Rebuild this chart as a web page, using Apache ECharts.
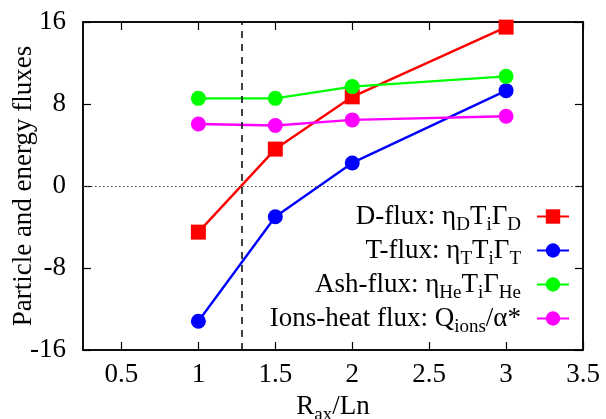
<!DOCTYPE html>
<html>
<head>
<meta charset="utf-8">
<script src="https://cdn.jsdelivr.net/npm/echarts@6/dist/echarts.min.js"></script>
<style>
  html, body { margin: 0; padding: 0; background: #fff; }
  #chart { width: 606px; height: 419px; }
</style>
</head>
<body>
<div id="chart"></div>
<script>
// R_ax/Ln values where the fluxes were computed
const xValues = [1, 1.5, 2, 3];
const dFlux = [-4.5, 3.6, 8.7, 15.5];
const tFlux = [-13.2, -3.0, 2.25, 9.3];
const ashFlux = [8.55, 8.55, 9.7, 10.7];
const ionsHeat = [6.05, 5.9, 6.45, 6.8];

const xTicks = [0.5, 1, 1.5, 2, 2.5, 3, 3.5];
const thresholdX = 1.28; // dashed vertical marker

const seriesNames = ['D-flux', 'T-flux', 'Ash-flux', 'Ions-heat flux'];
const legendLabels = {
  'D-flux': 'D-flux: η{s|D}T{s|i}Γ{s|D}',
  'T-flux': 'T-flux: η{s|T}T{s|i}Γ{s|T}',
  'Ash-flux': 'Ash-flux: η{s|He}T{s|i}Γ{s|He}',
  'Ions-heat flux': 'Ions-heat flux: Q{s|ions}/α*'
};

const FONT = 'Liberation Serif';
const FS = 27;

function pairs(ys) {
  return xValues.map((x, i) => [x, ys[i]]);
}

const chart = echarts.init(document.getElementById('chart'), null, { renderer: 'canvas' });

function mkSeries(name, ys, color, symbol) {
  return {
    name: name,
    type: 'line',
    data: pairs(ys),
    symbol: symbol,
    symbolSize: 15,
    showSymbol: true,
    lineStyle: { color: color, width: 2.4 },
    itemStyle: { color: color },
    z: 3
  };
}

const series = [
  mkSeries(seriesNames[0], dFlux, '#ff0000', 'rect'),
  mkSeries(seriesNames[1], tFlux, '#0000ff', 'circle'),
  mkSeries(seriesNames[2], ashFlux, '#00ff00', 'circle'),
  mkSeries(seriesNames[3], ionsHeat, '#ff00ff', 'circle')
];

// reference lines: y = 0 dotted and dashed vertical threshold
series[0].markLine = {
  silent: true,
  symbol: 'none',
  animation: false,
  label: { show: false },
  data: [
    { yAxis: 0, lineStyle: { color: '#444', width: 1, type: [1.5, 2.5] } },
    { xAxis: thresholdX, lineStyle: { color: '#000', width: 1.5, type: [7, 6] } }
  ]
};

const subStyle = { fontFamily: FONT, fontSize: 19, color: '#000', padding: [18, 0, 0, 0] };
const labelStyle = { fontFamily: FONT, fontSize: FS, color: '#000' };

const option = {
  animation: false,
  backgroundColor: '#fff',
  textStyle: { fontFamily: FONT, fontSize: FS },
  grid: {
    left: 83, right: 23, top: 22, bottom: 69,
    outerBoundsMode: 'none',
    containLabel: false,
    show: true, borderColor: '#000', borderWidth: 1.5, backgroundColor: 'transparent'
  },
  legend: {
    data: seriesNames,
    orient: 'vertical',
    align: 'right',
    right: 36,
    top: 198,
    itemWidth: 32,
    itemHeight: 18,
    itemGap: -3,
    padding: 0,
    formatter: n => legendLabels[n],
    textStyle: Object.assign({
      lineHeight: 34.3,
      padding: [0, 11, 0, 0],
      rich: { s: Object.assign({ lineHeight: 34.3 }, subStyle) }
    }, labelStyle)
  },
  xAxis: [
    {
      type: 'value',
      min: 0.25,
      max: 3.5,
      name: 'R{s|ax}/Ln',
      nameLocation: 'middle',
      nameGap: 38,
      nameTextStyle: Object.assign({ rich: { s: subStyle } }, labelStyle),
      axisLine: { show: true, onZero: false, lineStyle: { color: '#000', width: 1.5 } },
      axisTick: { show: true, inside: true, length: 8, customValues: xTicks, lineStyle: { color: '#000', width: 1.2 } },
      axisLabel: Object.assign({ customValues: xTicks, margin: 11 }, labelStyle),
      splitLine: { show: false }
    },
    {
      type: 'value',
      position: 'top',
      min: 0.25,
      max: 3.5,
      axisLine: { show: true, onZero: false, lineStyle: { color: '#000', width: 1.5 } },
      axisTick: { show: true, inside: true, length: 8, customValues: xTicks, lineStyle: { color: '#000', width: 1.2 } },
      axisLabel: { show: false },
      splitLine: { show: false }
    }
  ],
  yAxis: [
    {
      type: 'value',
      min: -16,
      max: 16,
      interval: 8,
      name: 'Particle and energy fluxes',
      nameLocation: 'middle',
      nameGap: 46,
      nameMoveOverlap: false,
      nameTextStyle: labelStyle,
      axisLine: { show: true, onZero: false, lineStyle: { color: '#000', width: 1.5 } },
      axisTick: { show: true, inside: true, length: 8, lineStyle: { color: '#000', width: 1.2 } },
      axisLabel: Object.assign({ margin: 17 }, labelStyle),
      splitLine: { show: false }
    },
    {
      type: 'value',
      position: 'right',
      min: -16,
      max: 16,
      interval: 8,
      axisLine: { show: true, onZero: false, lineStyle: { color: '#000', width: 1.5 } },
      axisTick: { show: true, inside: true, length: 8, lineStyle: { color: '#000', width: 1.2 } },
      axisLabel: { show: false },
      splitLine: { show: false }
    }
  ],
  series: series
};

chart.setOption(option);
</script>
</body>
</html>
